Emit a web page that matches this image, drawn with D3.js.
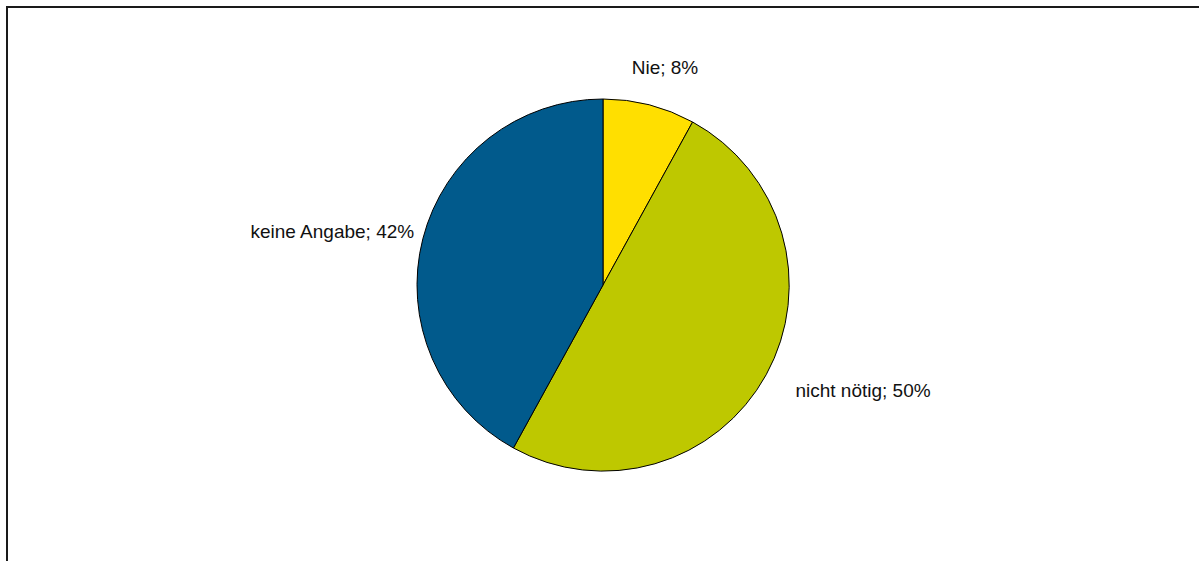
<!DOCTYPE html>
<html>
<head>
<meta charset="utf-8">
<script src="https://cdn.jsdelivr.net/npm/d3@7"></script>
<style>
  html, body { margin: 0; padding: 0; background: #fff; }
  svg { display: block; }
</style>
</head>
<body>
<svg id="chart" width="1199" height="561"></svg>
<script>
// Answer categories and their shares (percent)
const categories = ["Nie", "nicht nötig", "keine Angabe"];
const shares = [8, 50, 42];
const sliceColors = ["#FFDF00", "#BEC800", "#015A8C"];

const W = 1199, H = 561;
const cx = 603, cy = 285, radius = 186;
const labelDist = 212;
// small hand adjustments of label boxes (px)
const labelNudge = [[1, -2], [15, -2], [14, 2]];

const svg = d3.select("#chart");

// outer frame of the chart area
svg.append("rect")
  .attr("x", 7).attr("y", 7)
  .attr("width", W + 20).attr("height", H + 20)
  .attr("fill", "#fff")
  .attr("stroke", "#1a1a1a")
  .attr("stroke-width", 2);

const pieData = d3.pie().sort(null).value(d => d.value)(
  categories.map((c, i) => ({ name: c, value: shares[i], color: sliceColors[i] }))
);

const arc = d3.arc().innerRadius(0).outerRadius(radius);

const g = svg.append("g").attr("transform", `translate(${cx},${cy})`);

g.selectAll("path.slice")
  .data(pieData)
  .join("path")
  .attr("class", "slice")
  .attr("d", arc)
  .attr("fill", d => d.data.color)
  .attr("stroke", "#000")
  .attr("stroke-width", 1)
  .attr("stroke-linejoin", "round");

// labels placed outside the slice ends
const labels = g.selectAll("text.lbl")
  .data(pieData)
  .join("text")
  .attr("class", "lbl")
  .attr("font-family", "'Liberation Sans', Arial, sans-serif")
  .attr("font-size", "19px")
  .attr("fill", "#111")
  .attr("text-anchor", "middle")
  .attr("dominant-baseline", "central")
  .text(d => `${d.data.name}; ${d.data.value}%`);

labels.each(function (d, i) {
  const a = (d.startAngle + d.endAngle) / 2;
  const ux = Math.sin(a), uy = -Math.cos(a);
  const bb = this.getBBox();
  const x = labelDist * ux + (bb.width / 2) * ux + labelNudge[i][0];
  const y = labelDist * uy + (bb.height / 2) * uy + labelNudge[i][1];
  d3.select(this).attr("x", x).attr("y", y);
});
</script>
</body>
</html>
